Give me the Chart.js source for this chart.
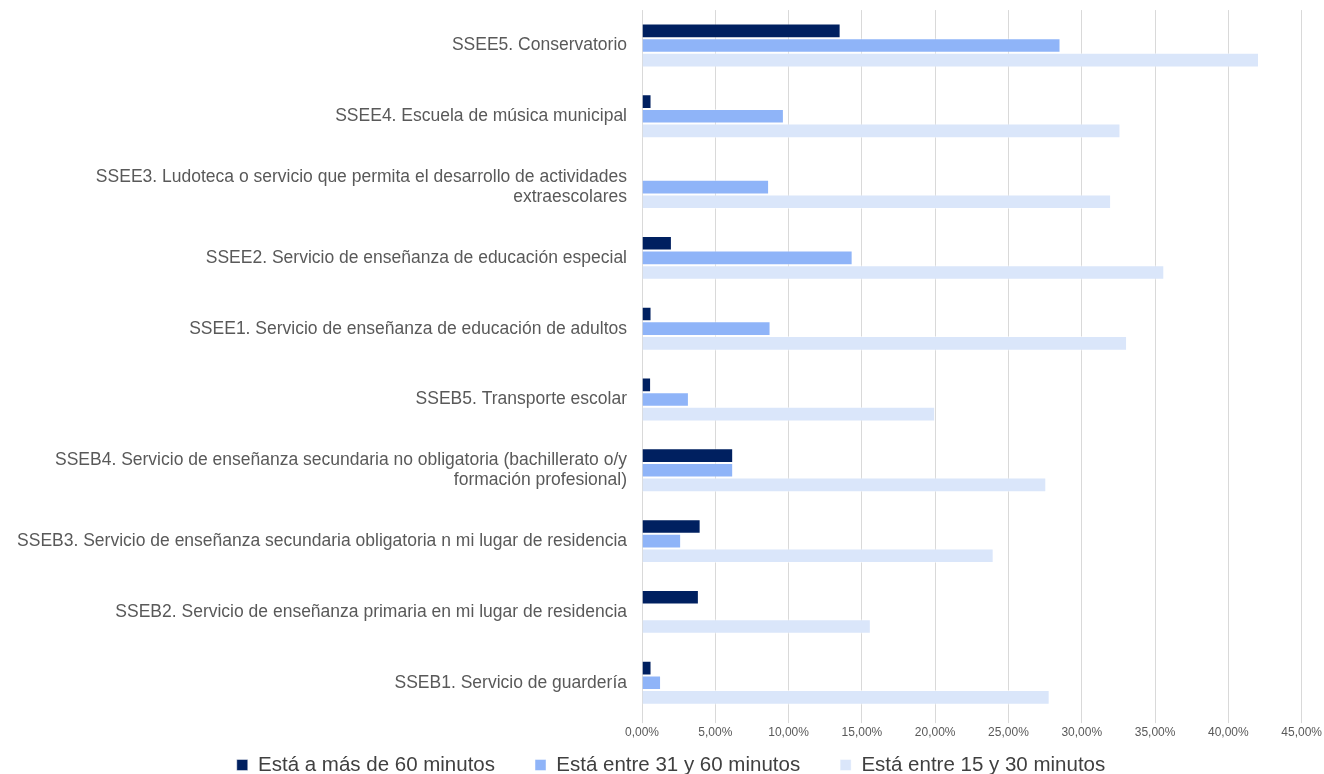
<!DOCTYPE html>
<html>
<head>
<meta charset="utf-8">
<script src="https://cdn.jsdelivr.net/npm/chart.js@4"></script>
<style>
html,body{margin:0;padding:0;background:#fff;}
#wrap{width:1324px;height:774px;position:relative;}
</style>
</head>
<body>
<div id="wrap"><canvas id="c"></canvas></div>
<script>
const categories = [
  "SSEE5. Conservatorio",
  "SSEE4. Escuela de música municipal",
  ["SSEE3. Ludoteca o servicio que permita el desarrollo de actividades", "extraescolares"],
  "SSEE2. Servicio de enseñanza de educación especial",
  "SSEE1. Servicio de enseñanza de educación de adultos",
  "SSEB5. Transporte escolar",
  ["SSEB4. Servicio de enseñanza secundaria no obligatoria (bachillerato o/y", "formación profesional)"],
  "SSEB3. Servicio de enseñanza secundaria obligatoria n mi lugar de residencia",
  "SSEB2. Servicio de enseñanza primaria en mi lugar de residencia",
  "SSEB1. Servicio de guardería"
];
const seriesNames = ["Está a más de 60 minutos", "Está entre 31 y 60 minutos", "Está entre 15 y 30 minutos"];
const masDe60 =   [13.55, 0.65, 0,    2.04,  0.65, 0.62, 6.22, 4.00, 3.88, 0.65];
const entre31y60 = [28.55, 9.68, 8.67, 14.37, 8.77, 3.20, 6.22, 2.67, 0,    1.30];
const entre15y30 = [42.09, 32.64, 32.00, 35.63, 33.09, 20.00, 27.58, 23.99, 15.61, 27.81];
const xTicks = [0, 5, 10, 15, 20, 25, 30, 35, 40, 45];

const colors = ["#002060", "#8FB4F8", "#DAE6FA"];
const font = "'Liberation Sans', Arial, sans-serif";
const LEGEND_PAD = 40;
const LEGEND_FONT = 20.5;
const LEGEND_TEXT_Y = 765;

const legendShift = {
  id: 'legendShift',
  afterLayout(chart) {
    const lg = chart.legend;
    if (!lg) return;
    lg.top = LEGEND_TEXT_Y - LEGEND_PAD - LEGEND_FONT / 2;
    lg.bottom = chart.height;
    lg.height = lg.bottom - lg.top;
    lg.left = 26;
    lg.width = lg.right - lg.left;
  }
};

new Chart(document.getElementById('c'), {
  type: 'bar',
  data: {
    labels: categories,
    datasets: [masDe60, entre31y60, entre15y30].map((d, i) => ({
      label: seriesNames[i],
      data: d,
      backgroundColor: colors[i],
      borderColor: 'rgba(255,255,255,0.45)',
      borderWidth: 1,
      categoryPercentage: 0.62,
      barPercentage: 1.0
    }))
  },
  plugins: [legendShift],
  options: {
    indexAxis: 'y',
    responsive: true,
    maintainAspectRatio: false,
    animation: false,
    layout: { padding: { top: 10, right: 8, bottom: 0, left: 0 } },
    plugins: {
      legend: {
        position: 'bottom',
        maxHeight: 32.5,
        labels: {
          boxWidth: 11, boxHeight: 11, padding: LEGEND_PAD,
          color: '#404040',
          font: { family: font, size: LEGEND_FONT }
        }
      },
      tooltip: { enabled: false }
    },
    scales: {
      x: {
        min: 0, max: 45,
        afterBuildTicks: s => { s.ticks = xTicks.map(v => ({ value: v })); },
        ticks: {
          color: '#595959',
          font: { family: font, size: 12 },
          padding: 2,
          callback: v => v.toFixed(2).replace('.', ',') + '%'
        },
        grid: { color: '#d9d9d9', lineWidth: 1, drawTicks: true, tickLength: 5 },
        border: { display: false }
      },
      y: {
        afterFit: s => { s.width = 642; },
        ticks: {
          color: '#595959',
          font: { family: font, size: 17.5, lineHeight: 1.15 },
          padding: 0,
          autoSkip: false
        },
        grid: { display: false, drawTicks: true, tickLength: 15 },
        border: { display: false }
      }
    }
  }
});
</script>
</body>
</html>
